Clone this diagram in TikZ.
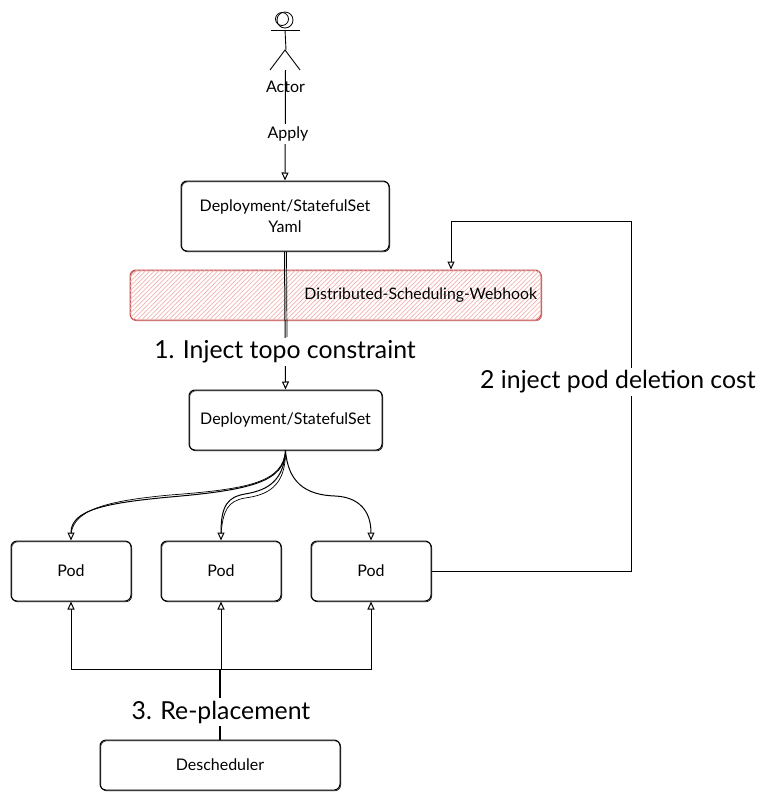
\documentclass[tikz,border=0pt]{standalone}
\usepackage{fontspec}
\setmainfont{Lato}
\usetikzlibrary{arrows.meta,patterns.meta}
\definecolor{hachurered}{HTML}{F2B0AD}
\definecolor{webhookred}{HTML}{C0504D}
\tikzset{>={Triangle[open,length=8pt,width=7pt]}}
\tikzset{
  box/.style={draw,line width=1pt,rounded corners=6pt,fill=white,align=center,inner sep=0pt,
    font=\fontsize{16}{21}\selectfont,
    postaction={draw,line width=0.6pt,transform canvas={shift={(0.7pt,-0.8pt)}}}},
  podbox/.style={box,minimum width=120pt,minimum height=60pt},
  steplabel/.style={fill=white,inner sep=0pt,minimum height=28pt,font=\fontsize{24.8}{28}\selectfont},
  link/.style={line width=1pt},
  linkrough/.style={line width=0.7pt}
}

\begin{document}
\begin{tikzpicture}[x=1pt,y=-1pt]
  \useasboundingbox (0,0) rectangle (768,801);
  % actor
  \draw[line width=0.8pt] (285,20) circle (8);
  \draw[line width=0.8pt] (282,19) circle (6.5);
  \draw[line width=0.9pt] (271,30) -- (300,30);
  \draw[line width=0.9pt] (285,30) -- (286,50);
  \draw[line width=0.9pt] (270,70) -- (285,50) -- (300,70);
  \coordinate (actor) at (285.5,70);
  % boxes
  \node[box,minimum width=208pt,minimum height=70pt] (yaml) at (285,216) {Deployment/StatefulSet\\Yaml};
  \node[box,draw=webhookred,fill=none,minimum width=411pt,minimum height=50pt,text width=403pt,align=right,
    font=\fontsize{15.8}{18}\selectfont,
    postaction={pattern={Lines[angle=45,distance=3.2pt,line width=0.7pt]},pattern color=hachurered}] (webhook) at (335.5,295) {Distributed-Scheduling-Webhook};
  \node[box,minimum width=193pt,minimum height=60pt] (deploy) at (285.5,420) {Deployment/StatefulSet};
  \node[podbox] (pod1) at (71,571) {Pod};
  \node[podbox] (pod2) at (221,571) {Pod};
  \node[podbox] (pod3) at (371,571) {Pod};
  \node[box,minimum width=240pt,minimum height=50pt] (desched) at (220,765) {Descheduler};
  % actor to yaml
  \draw[link,->] (actor) -- (yaml.north);
  % yaml to deployment
  \draw[linkrough] ([xshift=1.5pt]yaml.south) -- ([xshift=1.5pt]deploy.north |- 0,337);
  \draw[link,->] ([xshift=-0.5pt]yaml.south) -- (deploy.north);
  % deployment to pods
  \draw[link,->] (deploy.south) .. controls (285,482) and (250,490) .. (170,497)
    .. controls (105,503) and (71,510) .. (pod1.north);
  \draw[linkrough] (deploy.south) .. controls (283,482) and (250,489) .. (170,495)
    .. controls (105,501) and (74,510) .. (71,534);
  \draw[link,->] (deploy.south) .. controls (284,485) and (262,491) .. (245,494)
    .. controls (228,497) and (221,505) .. (pod2.north);
  \draw[linkrough] (deploy.south) .. controls (286,487) and (267,495) .. (245,498)
    .. controls (228,501) and (223,510) .. (221,534);
  \draw[link,->] (deploy.south) .. controls (288,482) and (305,495) .. (335,496)
    .. controls (358,497) and (371,510) .. (pod3.north);
  % pod to webhook
  \draw[link,->] (pod3.east) -- (631,571) -- (631,221) -- (451,221) -- (webhook.north -| 451,0);
  % descheduler to pods
  \foreach \P/\S in {pod1/-0.8,pod2/0,pod3/0.8} {
    \draw[link,->] ([xshift=\S pt]desched.north) -- ([xshift=\S pt]220,669) -| (\P.south);
  }
  % texts
  \node[font=\fontsize{16}{18}\selectfont] (actortext) at (285.5,87) {Actor};
  \node[fill=white,inner sep=1pt,minimum height=20pt,font=\fontsize{16}{18}\selectfont] (apply) at (288,134) {Apply};
  \node[steplabel] (inject) at (285,352) {1. Inject topo constraint};
  \node[steplabel] (deletion) at (618,382) {2 inject pod deletion cost};
  \node[steplabel] (replace) at (221,712) {3. Re-placement};
\end{tikzpicture}
\end{document}
